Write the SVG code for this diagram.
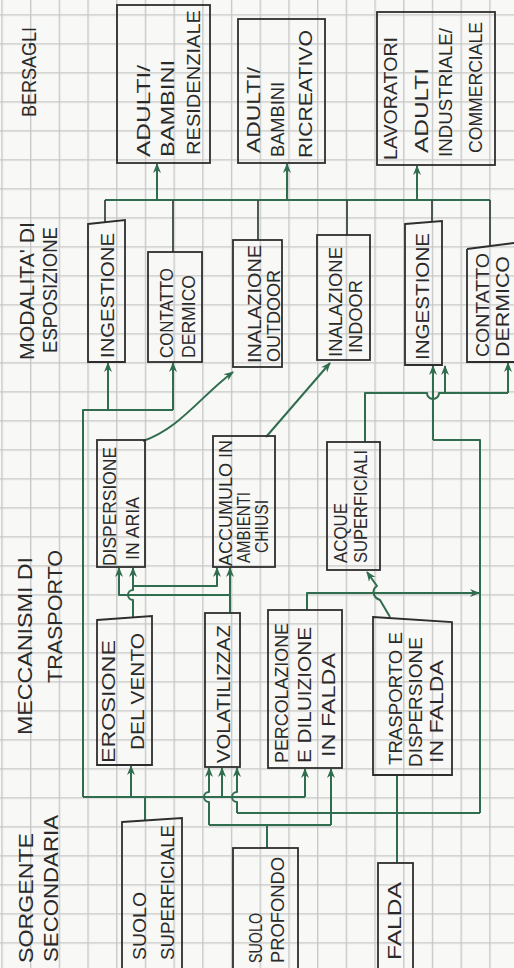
<svg xmlns="http://www.w3.org/2000/svg" width="514" height="968" viewBox="0 0 514 968">
<defs>
<style>
.box{fill:none;stroke:#2e2e2e;stroke-width:1.8}
.ink{fill:none;stroke:#2f6d4e;stroke-width:2;stroke-linejoin:round}
.pen{fill:none;stroke:#3b4a42;stroke-width:1.8}
.arr{marker-end:url(#ah)}
text{font-family:"Liberation Sans",Arial,sans-serif;font-size:19px;fill:#2a2a2a;dominant-baseline:central}
.hd{font-size:20px}
</style>
<marker id="ah" viewBox="0 0 10 10" refX="9" refY="5" markerWidth="10" markerHeight="10" markerUnits="userSpaceOnUse" orient="auto">
<path d="M0,1 L10,5 L0,9 L3,5 z" fill="#2f6d4e"/>
</marker>
<pattern id="grid" x="1.3" y="14.3" width="28.7" height="29" patternUnits="userSpaceOnUse">
<path d="M0.7,0 V29 M0,0.7 H28.7" stroke="#c6c6c6" stroke-width="1.3" fill="none"/>
</pattern>
</defs>
<rect width="514" height="968" fill="#f8f8f6"/>
<rect width="514" height="968" fill="url(#grid)"/>

<g id="headers">
<text class="hd" transform="translate(29,117) rotate(-90)" textLength="90" lengthAdjust="spacingAndGlyphs">BERSAGLI</text>
<text class="hd" transform="translate(27,360) rotate(-90)" textLength="138" lengthAdjust="spacingAndGlyphs">MODALITA' DI</text>
<text class="hd" transform="translate(50,353) rotate(-90)" textLength="126" lengthAdjust="spacingAndGlyphs">ESPOSIZIONE</text>
<text class="hd" transform="translate(25,735) rotate(-90)" textLength="178" lengthAdjust="spacingAndGlyphs">MECCANISMI DI</text>
<text class="hd" transform="translate(55,683) rotate(-90)" textLength="133" lengthAdjust="spacingAndGlyphs">TRASPORTO</text>
<text class="hd" transform="translate(26,963) rotate(-90)" textLength="130" lengthAdjust="spacingAndGlyphs">SORGENTE</text>
<text class="hd" transform="translate(51,962) rotate(-90)" textLength="147" lengthAdjust="spacingAndGlyphs">SECONDARIA</text>
</g>

<g id="connectors">
<path class="ink" d="M105,200 H490"/>
<path class="pen" d="M105,200 V222 M173,200 V252 M258,200 V240 M347,200 V235 M432,200 V222 M490,200 V245"/>
<path class="ink arr" d="M157,200 V164"/>
<path class="ink arr" d="M287,200 V164"/>
<path class="ink arr" d="M417,200 V166"/>
<path class="ink" d="M145,820 V797 M83,797 H305"/>
<path class="ink arr" d="M131,797 V766"/>
<path class="ink arr" d="M222,797 V768"/>
<path class="ink arr" d="M305,797 V769"/>
<path class="ink" d="M83,797 V410 H173"/>
<path class="ink arr" d="M108,410 V363"/>
<path class="ink arr" d="M173,410 V363"/>
<path class="ink" d="M267,848 V825 M209,825 H331"/>
<path class="ink arr" d="M209,825 V802 a5,5 0 0 1 0,-10 V768"/>
<path class="ink arr" d="M331,825 V769"/>
<path class="ink" d="M397,863 V775"/>
<path class="ink" d="M480,813 H237"/>
<path class="ink arr" d="M237,813 V802 a5,5 0 0 1 0,-10 V768"/>
<path class="ink" d="M480,813 V440 H433"/>
<path class="ink arr" d="M433,440 V366"/>
<path class="ink arr" d="M133,618 V600 a5,5 0 0 1 0,-10 V568"/>
<path class="ink arr" d="M133,586 H217 V568"/>
<path class="ink arr" d="M230,613 V568"/>
<path class="ink arr" d="M230,595 H119 V568"/>
<path class="ink arr" d="M307,610 V593 H479"/>
<path class="ink arr" d="M390,617 L380,600 C372,597 372,589 377,586 L367,572"/>
<path class="ink arr" d="M143,441 C180,428 200,397 233,372"/>
<path class="ink arr" d="M266,437 L330,363"/>
<path class="ink" d="M365,442 V393 H427 a6,6 0 0 0 12,0 H508"/>
<path class="ink arr" d="M508,393 V363"/>
<path class="ink arr" d="M445,393 V366"/>
</g>

<g id="t1"><rect class="box" x="117" y="5" width="93" height="158"/>
<text transform="translate(143,157) rotate(-90)" textLength="92" lengthAdjust="spacingAndGlyphs">ADULTI/</text>
<text transform="translate(167,157) rotate(-90)" textLength="97" lengthAdjust="spacingAndGlyphs">BAMBINI</text>
<text transform="translate(193,155) rotate(-90)" textLength="145" lengthAdjust="spacingAndGlyphs">RESIDENZIALE</text></g>

<g id="t2"><rect class="box" x="238" y="19" width="87" height="144"/>
<text transform="translate(253,153) rotate(-90)" textLength="86" lengthAdjust="spacingAndGlyphs">ADULTI/</text>
<text transform="translate(277,157) rotate(-90)" textLength="75" lengthAdjust="spacingAndGlyphs">BAMBINI</text>
<text transform="translate(305,158) rotate(-90)" textLength="128" lengthAdjust="spacingAndGlyphs">RICREATIVO</text></g>

<g id="t3"><rect class="box" x="377" y="12" width="118" height="153"/>
<text transform="translate(390,160) rotate(-90)" textLength="123" lengthAdjust="spacingAndGlyphs">LAVORATORI</text>
<text transform="translate(421,153) rotate(-90)" textLength="85" lengthAdjust="spacingAndGlyphs">ADULTI</text>
<text transform="translate(445,157) rotate(-90)" textLength="129" lengthAdjust="spacingAndGlyphs">INDUSTRIALE/</text>
<text transform="translate(475,153) rotate(-90)" textLength="131" lengthAdjust="spacingAndGlyphs">COMMERCIALE</text></g>

<g id="m1"><path class="box" d="M88,224 L125,220 V362 H88 Z"/>
<text transform="translate(107,358) rotate(-90)" textLength="125" lengthAdjust="spacingAndGlyphs">INGESTIONE</text></g>

<g id="m2"><rect class="box" x="148" y="252" width="54" height="110"/>
<text transform="translate(166,358) rotate(-90)" textLength="90" lengthAdjust="spacingAndGlyphs">CONTATTO</text>
<text transform="translate(188,358) rotate(-90)" textLength="83" lengthAdjust="spacingAndGlyphs">DERMICO</text></g>

<g id="m3"><rect class="box" x="233" y="240" width="49" height="127"/>
<text transform="translate(254,363) rotate(-90)" textLength="118" lengthAdjust="spacingAndGlyphs">INALAZIONE</text>
<text transform="translate(273,362) rotate(-90)" textLength="92" lengthAdjust="spacingAndGlyphs">OUTDOOR</text></g>

<g id="m4"><rect class="box" x="317" y="235" width="53" height="125"/>
<text transform="translate(335,357) rotate(-90)" textLength="110" lengthAdjust="spacingAndGlyphs">INALAZIONE</text>
<text transform="translate(355,353) rotate(-90)" textLength="73" lengthAdjust="spacingAndGlyphs">INDOOR</text></g>

<g id="m5"><path class="box" d="M405,224 L442,221 V365 H405 Z"/>
<text transform="translate(422,360) rotate(-90)" textLength="127" lengthAdjust="spacingAndGlyphs">INGESTIONE</text></g>

<g id="m6"><path class="box" d="M467,249 L514,243 M467,249 V362 H514"/>
<text transform="translate(482,357) rotate(-90)" textLength="104" lengthAdjust="spacingAndGlyphs">CONTATTO</text>
<text transform="translate(502,357) rotate(-90)" textLength="101" lengthAdjust="spacingAndGlyphs">DERMICO</text></g>

<g id="tr1"><rect class="box" x="97" y="440" width="48" height="127"/>
<text transform="translate(109,566) rotate(-90)" textLength="119" lengthAdjust="spacingAndGlyphs">DISPERSIONE</text>
<text transform="translate(132,560) rotate(-90)" textLength="63" lengthAdjust="spacingAndGlyphs">IN ARIA</text></g>

<g id="tr2"><rect class="box" x="213" y="436" width="62" height="131"/>
<text transform="translate(225,566) rotate(-90)" textLength="126" lengthAdjust="spacingAndGlyphs">ACCUMULO IN</text>
<text transform="translate(243,563) rotate(-90)" textLength="71" lengthAdjust="spacingAndGlyphs">AMBIENTI</text>
<text transform="translate(261,553) rotate(-90)" textLength="53" lengthAdjust="spacingAndGlyphs">CHIUSI</text></g>

<g id="tr3"><rect class="box" x="327" y="442" width="53" height="128"/>
<text transform="translate(340,563) rotate(-90)" textLength="60" lengthAdjust="spacingAndGlyphs">ACQUE</text>
<text transform="translate(360,563) rotate(-90)" textLength="113" lengthAdjust="spacingAndGlyphs">SUPERFICIALI</text></g>

<g id="tr4"><path class="box" d="M97,620 L152,616 V765 H97 Z"/>
<text transform="translate(108,763) rotate(-90)" textLength="123" lengthAdjust="spacingAndGlyphs">EROSIONE</text>
<text transform="translate(137,750) rotate(-90)" textLength="117" lengthAdjust="spacingAndGlyphs">DEL VENTO</text></g>

<g id="tr5"><rect class="box" x="205" y="613" width="35" height="154"/>
<text transform="translate(223,763) rotate(-90)" textLength="138" lengthAdjust="spacingAndGlyphs">VOLATILIZZAZ</text></g>

<g id="tr6"><rect class="box" x="268" y="610" width="74" height="158"/>
<text transform="translate(281,763) rotate(-90)" textLength="140" lengthAdjust="spacingAndGlyphs">PERCOLAZIONE</text>
<text transform="translate(304,763) rotate(-90)" textLength="136" lengthAdjust="spacingAndGlyphs">E DILUIZIONE</text>
<text transform="translate(328,757) rotate(-90)" textLength="104" lengthAdjust="spacingAndGlyphs">IN FALDA</text></g>

<g id="tr7"><path class="box" d="M373,617 L452,622 V775 H373 Z"/>
<text transform="translate(395,765) rotate(-90)" textLength="133" lengthAdjust="spacingAndGlyphs">TRASPORTO E</text>
<text transform="translate(415,767) rotate(-90)" textLength="130" lengthAdjust="spacingAndGlyphs">DISPERSIONE</text>
<text transform="translate(436,763) rotate(-90)" textLength="103" lengthAdjust="spacingAndGlyphs">IN FALDA</text></g>

<g id="s1"><path class="box" d="M122,822 L182,818 V972 H122 Z"/>
<text transform="translate(139,960) rotate(-90)" textLength="68" lengthAdjust="spacingAndGlyphs">SUOLO</text>
<text transform="translate(167,960) rotate(-90)" textLength="135" lengthAdjust="spacingAndGlyphs">SUPERFICIALE</text></g>

<g id="s2"><rect class="box" x="233" y="848" width="65" height="124"/>
<text transform="translate(255,963) rotate(-90)" textLength="50" lengthAdjust="spacingAndGlyphs">SUOLO</text>
<text transform="translate(277,963) rotate(-90)" textLength="106" lengthAdjust="spacingAndGlyphs">PROFONDO</text></g>

<g id="s3"><rect class="box" x="378" y="863" width="35" height="109"/>
<text transform="translate(394,960) rotate(-90)" textLength="78" lengthAdjust="spacingAndGlyphs">FALDA</text></g>
</svg>
